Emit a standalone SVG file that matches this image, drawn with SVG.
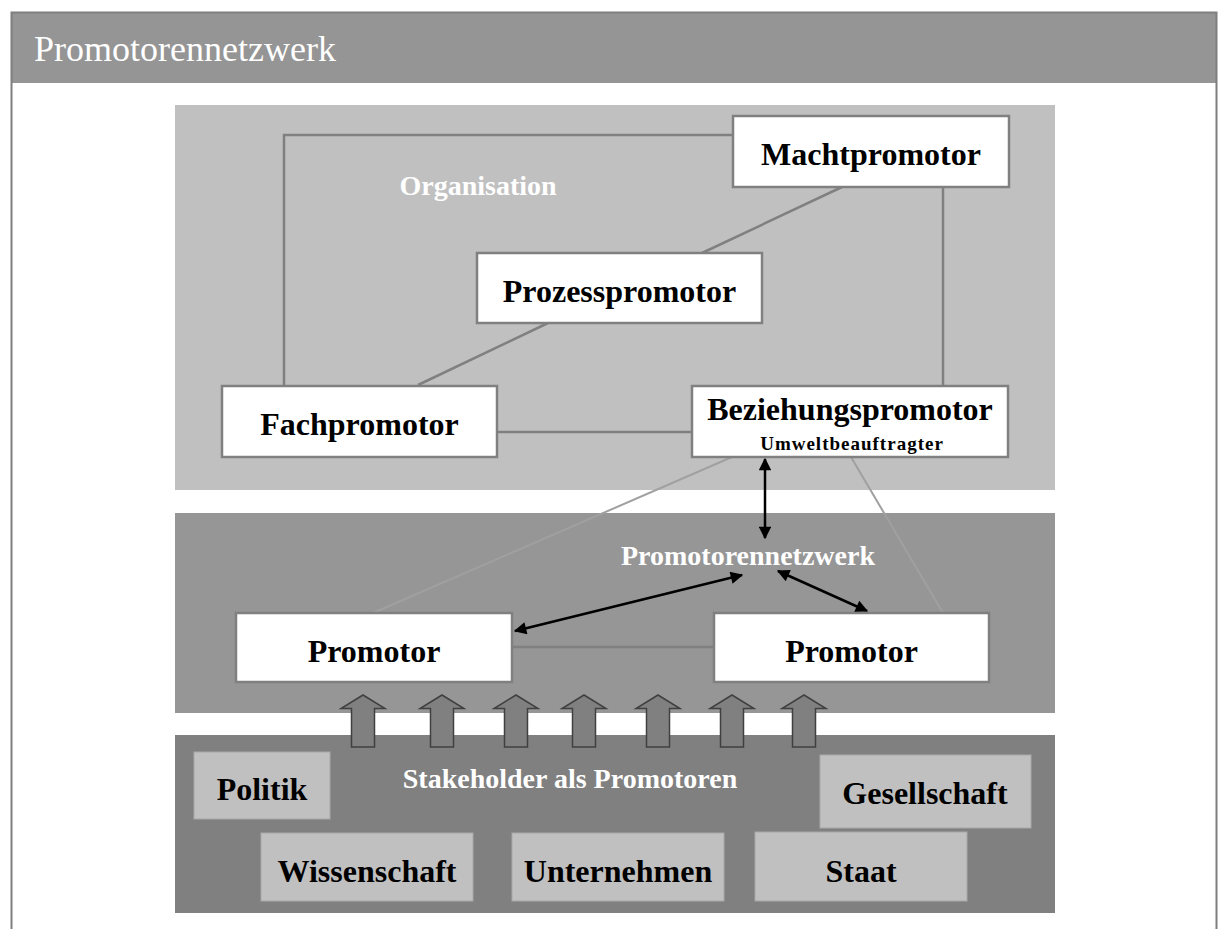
<svg xmlns="http://www.w3.org/2000/svg" width="1221" height="929" viewBox="0 0 1221 929">
  <style>
    .frame { fill: none; stroke: #7f7f7f; stroke-width: 2; }
    .node { fill: #ffffff; stroke: #808080; stroke-width: 2.5; }
    .stake { fill: #c0c0c0; stroke: #a8a8a8; stroke-width: 1; }
    .lbl { font-family: "Liberation Serif", "Times New Roman", serif; font-weight: bold; font-size: 32px; fill: #000; text-anchor: middle; }
    .sub { font-size: 19px; letter-spacing: 1px; }
    .zone { font-family: "Liberation Serif", "Times New Roman", serif; font-weight: bold; font-size: 28px; fill: #ffffff; text-anchor: middle; }
    .link { fill: none; stroke: #808080; stroke-width: 2.5; }
    .thin { fill: none; stroke: #a0a0a0; stroke-width: 2; }
    .arrow { fill: none; stroke: #000; stroke-width: 2.5; marker-start: url(#head); marker-end: url(#head); }
    .up { fill: #808080; stroke: #404040; stroke-width: 1.5; stroke-linejoin: miter; }
  </style>
  <defs>
    <marker id="head" viewBox="0 0 10 10" refX="9" refY="5" markerWidth="6" markerHeight="5" orient="auto-start-reverse" markerUnits="strokeWidth">
      <path d="M0,0 L10,5 L0,10 z" fill="#000"/>
    </marker>
    <path id="uparrow" class="up" d="M0,0 L22,13.5 L11.5,13.5 L11.5,52 L-11.5,52 L-11.5,13.5 L-22,13.5 Z"/>
  </defs>

  <!-- outer frame with title bar -->
  <g id="title">
    <rect x="12" y="13" width="1204" height="70" fill="#959595"/>
    <path class="frame" d="M11.5,929 L11.5,12.5 L1216.5,12.5 L1216.5,929"/>
    <text x="34" y="61" font-family="Liberation Serif, Times New Roman, serif" font-size="36" fill="#ffffff">Promotorennetzwerk</text>
  </g>

  <!-- background zones -->
  <g id="zones">
    <rect x="175" y="105" width="880" height="385" fill="#c0c0c0"/>
    <rect x="175" y="513" width="880" height="200" fill="#969696"/>
    <rect x="175" y="735" width="880" height="178" fill="#808080"/>
    <text class="zone" x="478" y="195">Organisation</text>
    <text class="zone" x="748" y="565">Promotorennetzwerk</text>
    <text class="zone" x="570" y="788">Stakeholder als Promotoren</text>
  </g>

  <!-- connectors -->
  <g id="connectors">
    <path class="link" d="M284,385 L284,135 L733,135"/>
    <path class="link" d="M943,187 L943,386"/>
    <path class="link" d="M842,187 L702,253"/>
    <path class="link" d="M548,323 L418,385"/>
    <path class="link" d="M497,432 L693,432"/>
    <path class="link" d="M512,647 L714,647"/>
    <path class="thin" d="M732,457 L373,613"/>
    <path class="thin" d="M851,457 L943,613"/>
    <path class="arrow" d="M765,459 L765,538"/>
    <path class="arrow" d="M742,575 L515,631"/>
    <path class="arrow" d="M778,571 L867,611"/>
  </g>

  <!-- stakeholder influence arrows -->
  <g id="influence">
    <use href="#uparrow" x="363" y="695"/>
    <use href="#uparrow" x="442" y="695"/>
    <use href="#uparrow" x="516" y="695"/>
    <use href="#uparrow" x="584" y="695"/>
    <use href="#uparrow" x="658" y="695"/>
    <use href="#uparrow" x="732" y="695"/>
    <use href="#uparrow" x="804" y="695"/>
  </g>

  <g id="machtpromotor">
    <rect class="node" x="733" y="116" width="276" height="71"/>
    <text class="lbl" x="871" y="165">Machtpromotor</text>
  </g>
  <g id="prozesspromotor">
    <rect class="node" x="477" y="253" width="285" height="70"/>
    <text class="lbl" x="619.5" y="302">Prozesspromotor</text>
  </g>
  <g id="fachpromotor">
    <rect class="node" x="222" y="386" width="275" height="71"/>
    <text class="lbl" x="359.5" y="435">Fachpromotor</text>
  </g>
  <g id="beziehungspromotor">
    <rect class="node" x="692" y="386" width="316" height="71"/>
    <text class="lbl" x="850" y="420">Beziehungspromotor</text>
    <text class="lbl sub" x="852" y="450">Umweltbeauftragter</text>
  </g>
  <g id="promotor-links">
    <rect class="node" x="236" y="613" width="276" height="69"/>
    <text class="lbl" x="374" y="662">Promotor</text>
  </g>
  <g id="promotor-rechts">
    <rect class="node" x="714" y="613" width="275" height="69"/>
    <text class="lbl" x="851.5" y="662">Promotor</text>
  </g>

  <g id="politik">
    <rect class="stake" x="194" y="752" width="136" height="67"/>
    <text class="lbl" x="262" y="800">Politik</text>
  </g>
  <g id="gesellschaft">
    <rect class="stake" x="820" y="755" width="211" height="73"/>
    <text class="lbl" x="925" y="804">Gesellschaft</text>
  </g>
  <g id="wissenschaft">
    <rect class="stake" x="261" y="833" width="212" height="68"/>
    <text class="lbl" x="367" y="882">Wissenschaft</text>
  </g>
  <g id="unternehmen">
    <rect class="stake" x="512" y="833" width="212" height="68"/>
    <text class="lbl" x="618" y="882">Unternehmen</text>
  </g>
  <g id="staat">
    <rect class="stake" x="755" y="832" width="212" height="69"/>
    <text class="lbl" x="861" y="882">Staat</text>
  </g>
</svg>
